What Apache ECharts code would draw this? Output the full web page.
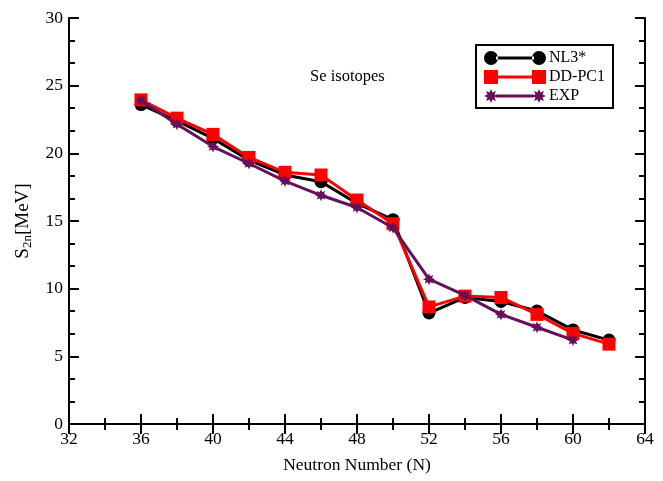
<!DOCTYPE html>
<html>
<head>
<meta charset="utf-8">
<script src="https://cdn.jsdelivr.net/npm/echarts@6/dist/echarts.min.js"></script>
<style>html,body{margin:0;padding:0;background:#fff;}#c{width:663px;height:481px;}</style>
</head>
<body>
<div id="c"></div>
<script>
const neutrons = [36, 38, 40, 42, 44, 46, 48, 50, 52, 54, 56, 58, 60, 62];
const nl3 = [23.6, 22.4, 21.1, 19.5, 18.4, 17.9, 16.3, 15.1, 8.2, 9.35, 9.05, 8.35, 6.95, 6.2];
const ddpc1 = [23.95, 22.6, 21.4, 19.7, 18.6, 18.4, 16.55, 14.8, 8.65, 9.45, 9.35, 8.1, 6.7, 5.9];
const expN = [36, 38, 40, 42, 44, 46, 48, 50, 52, 54, 56, 58, 60];
const expV = [23.9, 22.15, 20.5, 19.25, 17.95, 16.9, 16.0, 14.5, 10.7, 9.5, 8.1, 7.15, 6.2];
const seriesNames = ['NL3*', 'DD-PC1', 'EXP'];

const FONT = '"Liberation Serif", "Times New Roman", serif';

// 8-point star polygon in a box of size s at offset ox
function starPts(s, ox, inner) {
  const pts = [];
  for (let k = 0; k < 16; k++) {
    const a = k * Math.PI / 8;
    const r = (k % 2 === 0 ? 1 : inner) * s / 2;
    pts.push(((ox + s / 2 + r * Math.cos(a))).toFixed(2) + ' ' + (s / 2 + r * Math.sin(a)).toFixed(2));
  }
  return 'M' + pts.join('L') + 'Z';
}
const starPath = 'path://' + starPts(20, 0, 0.55);

// legend icons: symbol - line - symbol (62 x 14 box)
const iconCircle = 'path://M0 7a7 7 0 1 0 14 0a7 7 0 1 0 -14 0ZM48 7a7 7 0 1 0 14 0a7 7 0 1 0 -14 0ZM12 5.5h38v3h-38Z';
const iconSquare = 'path://M0 0h14v14h-14ZM48 0h14v14h-14ZM12 5.5h38v3h-38Z';
const iconStar = 'path://' + starPts(14, 0, 0.55) + starPts(14, 48, 0.55) + 'M12 5.5h38v3h-38Z';

const chart = echarts.init(document.getElementById('c'), null, {renderer: 'canvas'});

const tickLabel = {fontFamily: FONT, fontSize: 17.5, color: '#000'};
const axisLine = {show: true, lineStyle: {color: '#000', width: 2}};
const majorTick = {show: true, inside: true, length: 10, lineStyle: {color: '#000', width: 2}};

chart.setOption({
  animation: false,
  backgroundColor: '#fff',
  title: {
    text: 'Se isotopes',
    left: 305, top: 63,
    textStyle: {fontFamily: FONT, fontSize: 16.5, fontWeight: 'normal', color: '#000'}
  },
  legend: {
    left: 476, top: 45,
    orient: 'vertical',
    padding: [5, 8, 4, 8],
    itemGap: 3,
    itemWidth: 62, itemHeight: 14,
    borderColor: '#000', borderWidth: 2,
    backgroundColor: '#fff',
    textStyle: {fontFamily: FONT, fontSize: 16, color: '#000', lineHeight: 14, padding: [0, 0, 0, -2]},
    data: [
      {name: seriesNames[0], icon: iconCircle},
      {name: seriesNames[1], icon: iconSquare},
      {name: seriesNames[2], icon: iconStar}
    ]
  },
  grid: {left: 69, right: 18, top: 18, bottom: 57},
  xAxis: [{
    type: 'value', min: 32, max: 64, interval: 4,
    name: 'Neutron Number (N)', nameLocation: 'middle', nameGap: 32,
    nameTextStyle: {fontFamily: FONT, fontSize: 17.5, color: '#000'},
    axisLine: axisLine,
    axisTick: majorTick,
    minorTick: {show: true, splitNumber: 2, length: 6, lineStyle: {color: '#000', width: 2}},
    axisLabel: Object.assign({margin: 6}, tickLabel),
    splitLine: {show: false}
  }, {
    type: 'value', min: 32, max: 64, interval: 4, position: 'top',
    axisLine: axisLine,
    axisTick: majorTick,
    minorTick: {show: true, splitNumber: 2, length: 6, lineStyle: {color: '#000', width: 2}},
    axisLabel: {show: false},
    splitLine: {show: false}
  }],
  yAxis: [{
    type: 'value', min: 0, max: 30, interval: 5,
    name: 'S{sub|2n}[MeV]', nameLocation: 'middle', nameGap: 35,
    nameTextStyle: {
      fontFamily: FONT, fontSize: 19, color: '#000',
      rich: {sub: {fontFamily: FONT, fontSize: 13, color: '#000', verticalAlign: 'bottom', padding: [9, 0, 0, 0]}}
    },
    axisLine: axisLine,
    axisTick: majorTick,
    minorTick: {show: true, splitNumber: 3, length: 6, lineStyle: {color: '#000', width: 2}},
    axisLabel: Object.assign({margin: 6}, tickLabel),
    splitLine: {show: false}
  }, {
    type: 'value', min: 0, max: 30, interval: 5, position: 'right',
    axisLine: axisLine,
    axisTick: majorTick,
    minorTick: {show: true, splitNumber: 3, length: 6, lineStyle: {color: '#000', width: 2}},
    axisLabel: {show: false},
    splitLine: {show: false}
  }],
  series: [{
    name: seriesNames[0], type: 'line',
    data: neutrons.map((n, i) => [n, nl3[i]]),
    symbol: 'circle', symbolSize: 13,
    lineStyle: {color: '#000', width: 3},
    itemStyle: {color: '#000'},
    z: 2
  }, {
    name: seriesNames[1], type: 'line',
    data: neutrons.map((n, i) => [n, ddpc1[i]]),
    symbol: 'rect', symbolSize: 13,
    lineStyle: {color: '#ff0000', width: 3},
    itemStyle: {color: '#ff0000'},
    z: 3
  }, {
    name: seriesNames[2], type: 'line',
    data: expN.map((n, i) => [n, expV[i]]),
    symbol: starPath, symbolSize: 12,
    lineStyle: {color: '#660f5a', width: 3},
    itemStyle: {color: '#660f5a'},
    z: 4
  }]
});
</script>
</body>
</html>
